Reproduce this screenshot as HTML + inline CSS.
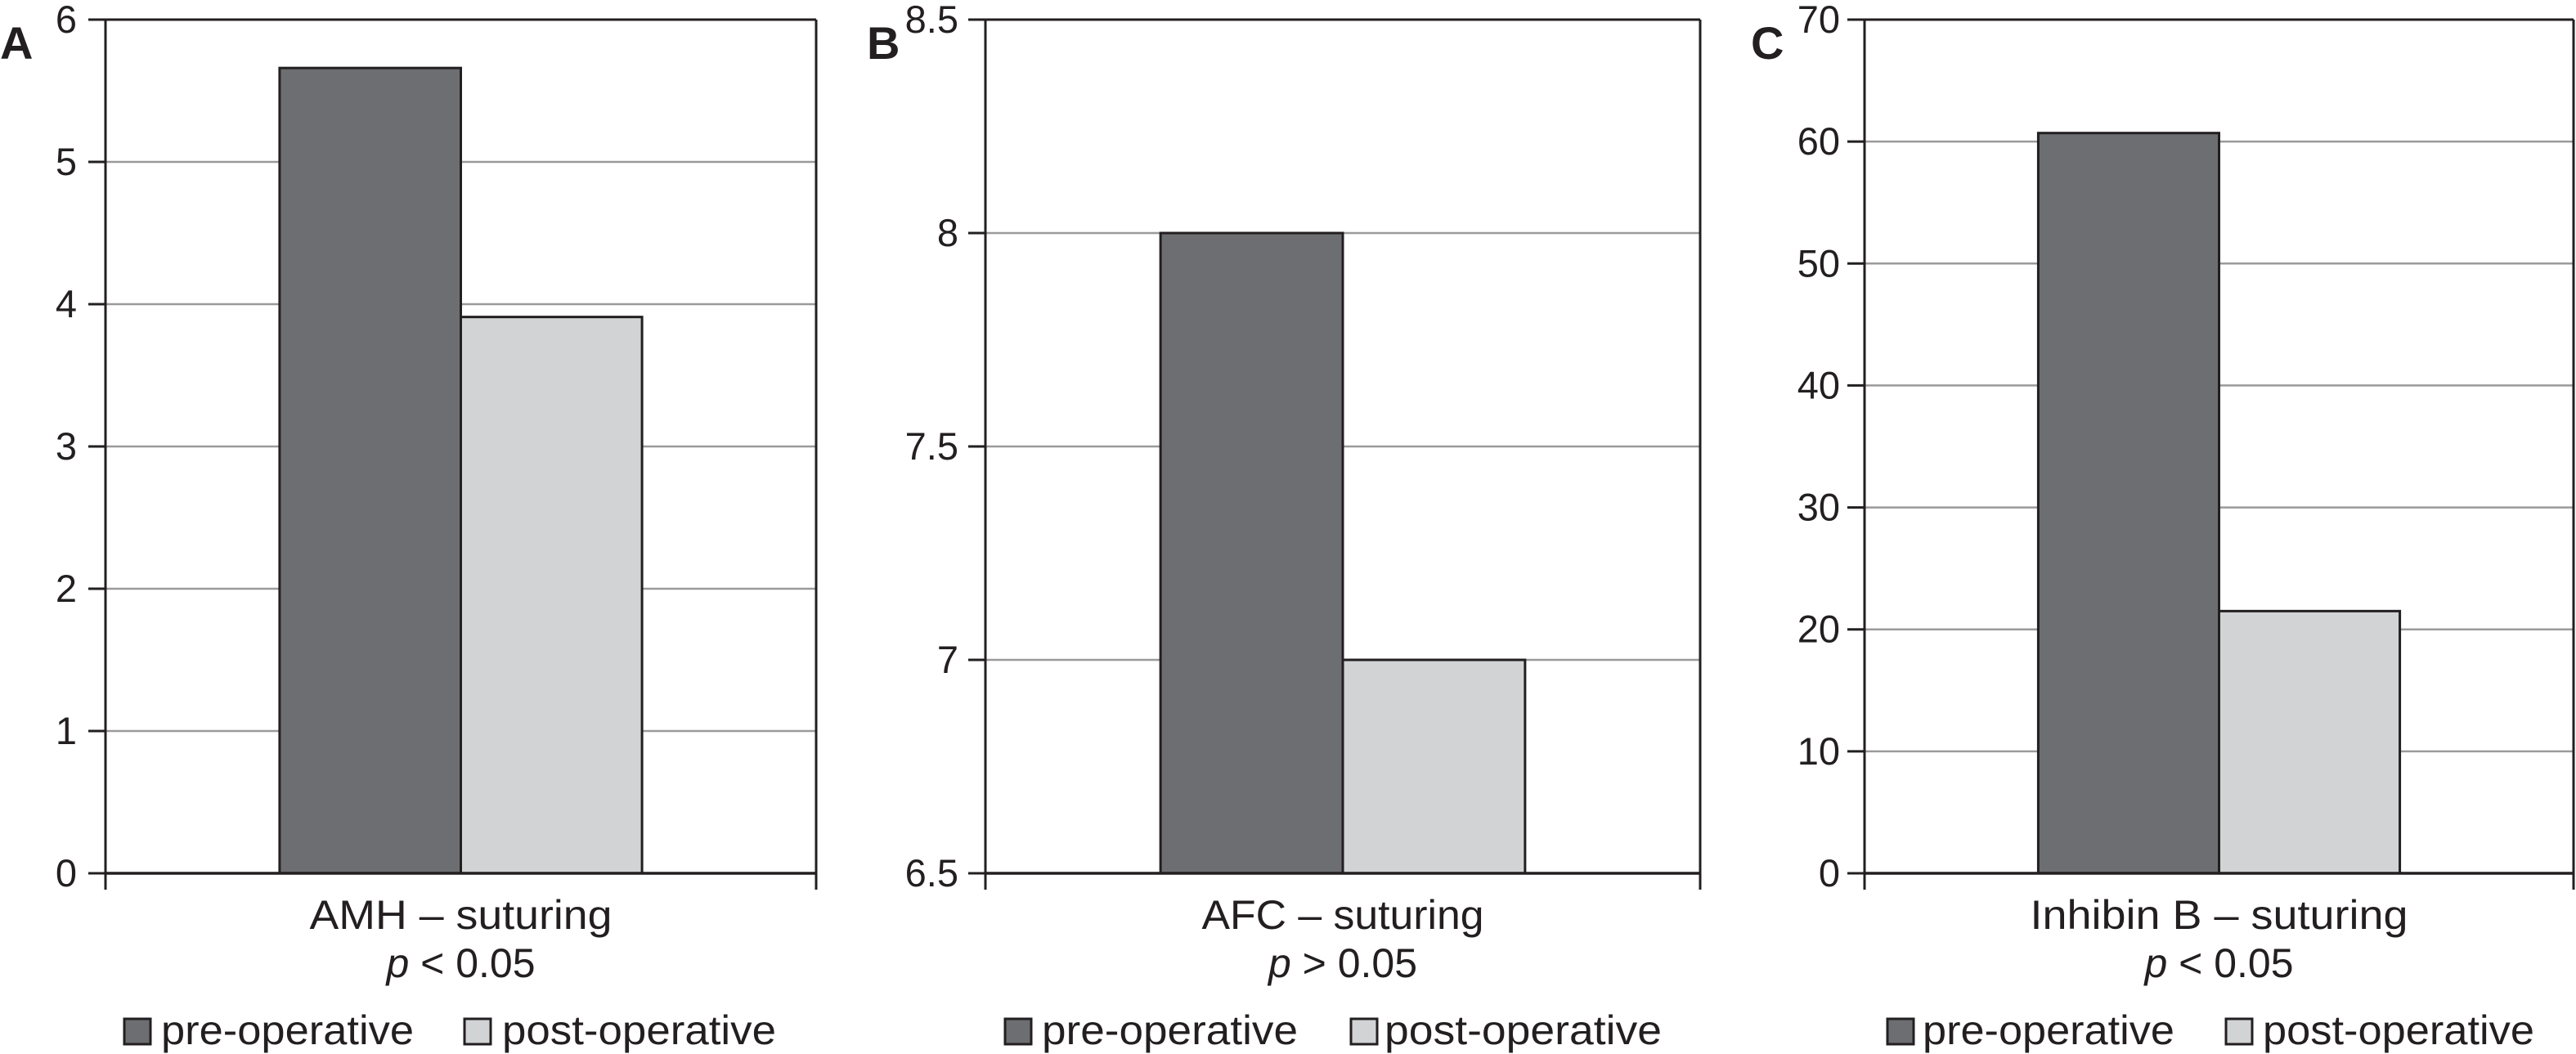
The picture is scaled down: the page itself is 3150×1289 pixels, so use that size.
<!DOCTYPE html>
<html><head><meta charset="utf-8"><style>
html,body{margin:0;padding:0;background:#fff;}
svg{display:block;}
text{font-family:"Liberation Sans",sans-serif;fill:#231f20;}
</style></head><body>
<svg id="chart" width="3150" height="1289" viewBox="0 0 3150 1289" xmlns="http://www.w3.org/2000/svg"></svg>
<script>
const panelLetters = ["A", "B", "C"];
const categoryLabels = ["AMH – suturing", "AFC – suturing", "Inhibin B – suturing"];
const pLabels = ["<", ">", "<"];
const seriesNames = ["pre-operative", "post-operative"];
const preValues = [5.66, 8.0, 60.7];
const postValues = [3.91, 7.0, 21.5];
const yMins = [0, 6.5, 0];
const yMaxs = [6, 8.5, 70];
const yStepsA = [0, 1, 2, 3, 4, 5, 6];
const yStepsB = [6.5, 7, 7.5, 8, 8.5];
const yStepsC = [0, 10, 20, 30, 40, 50, 60, 70];
const tickSets = [yStepsA, yStepsB, yStepsC];

const layout = [
  {x0:129, x1:998, letterX:0, labW:370, tickR:94, leg:[152,197,568,614], lw:[309,335]},
  {x0:1205, x1:2079, letterX:1060, labW:345, tickR:1172, leg:[1229,1274,1652,1693], lw:[313,339]},
  {x0:2280, x1:3147, letterX:2141, labW:462, tickR:2250, leg:[2308,2351,2722,2767], lw:[308,332]}
];
const TOP = 24, BOT = 1068;
const NS = "http://www.w3.org/2000/svg";
const svg = document.getElementById("chart");
function mk(tag, attrs, parent){ const e=document.createElementNS(NS,tag); for(const k in attrs) e.setAttribute(k,attrs[k]); (parent||svg).appendChild(e); return e; }

panelLetters.forEach((L, i) => {
  const p = layout[i];
  const g = mk("g", {});
  
  
  const y = v => BOT - (v - yMins[i]) / (yMaxs[i] - yMins[i]) * (BOT - TOP);
  const xw = p.x1 - p.x0;
  tickSets[i].forEach(t => {
    const yy = y(t);
    if (t !== yMins[i]) {
      const gl = mk("line", {x1:p.x0, x2:p.x1, y1:yy, y2:yy, stroke: t===yMaxs[i] ? "#231f20" : "#9a9a9a", "stroke-width": t===yMaxs[i]?3:2.5}, g);
      
      
    }
    const tk = mk("line", {x1:p.x0-21, x2:p.x0, y1:yy, y2:yy, stroke:"#231f20", "stroke-width":3}, g);
    
    
    const tl = mk("text", {x:p.tickR, y:yy+16, "text-anchor":"end", "font-size":47}, g);
    tl.textContent = String(t);
    
    
  });
  const bw = (xw * 0.51) / 2;
  const cx = (p.x0 + p.x1) / 2;
  [[preValues[i], "#6d6e71", cx - bw, "bar-pre"], [postValues[i], "#d1d3d4", cx, "bar-post"]].forEach(b => {
    const r = mk("rect", {x:b[2], y:y(b[0]), width:bw, height:BOT - y(b[0]), fill:b[1], stroke:"#231f20", "stroke-width":3}, g);
    
    
  });
  const ya = mk("line", {x1:p.x0, x2:p.x0, y1:TOP, y2:BOT+20, stroke:"#231f20", "stroke-width":3}, g);
  
  
  const ra = mk("line", {x1:p.x1, x2:p.x1, y1:TOP, y2:BOT+20, stroke:"#231f20", "stroke-width":3}, g);
  
  
  const xa = mk("line", {x1:p.x0, x2:p.x1, y1:BOT, y2:BOT, stroke:"#231f20", "stroke-width":3.5}, g);
  
  
  const lt = mk("text", {x:p.letterX, y:72, "font-size":56, "font-weight":"bold"}, g);
  lt.textContent = L;
  
  
  const cl = mk("text", {x:cx, y:1136, "text-anchor":"middle", "font-size":50, textLength:p.labW, lengthAdjust:"spacingAndGlyphs"}, g);
  cl.textContent = categoryLabels[i];
  
  
  const pl = mk("text", {x:cx, y:1195, "text-anchor":"middle", "font-size":50}, g);
  const ps = mk("tspan", {"font-style":"italic"}, pl); ps.textContent = "p";
  const pr = mk("tspan", {}, pl); pr.textContent = " " + pLabels[i] + " 0.05";
  
  
  [["#6d6e71", 0], ["#d1d3d4", 1]].forEach(([c, k]) => {
    const bx = mk("rect", {x:p.leg[k*2], y:1246, width:32, height:31, fill:c, stroke:"#231f20", "stroke-width":3}, g);
    
    
    const tx = mk("text", {x:p.leg[k*2+1], y:1277, "font-size":50, textLength:p.lw[k], lengthAdjust:"spacingAndGlyphs"}, g);
    tx.textContent = seriesNames[k];
    
    
  });
});
</script>
</body></html>
